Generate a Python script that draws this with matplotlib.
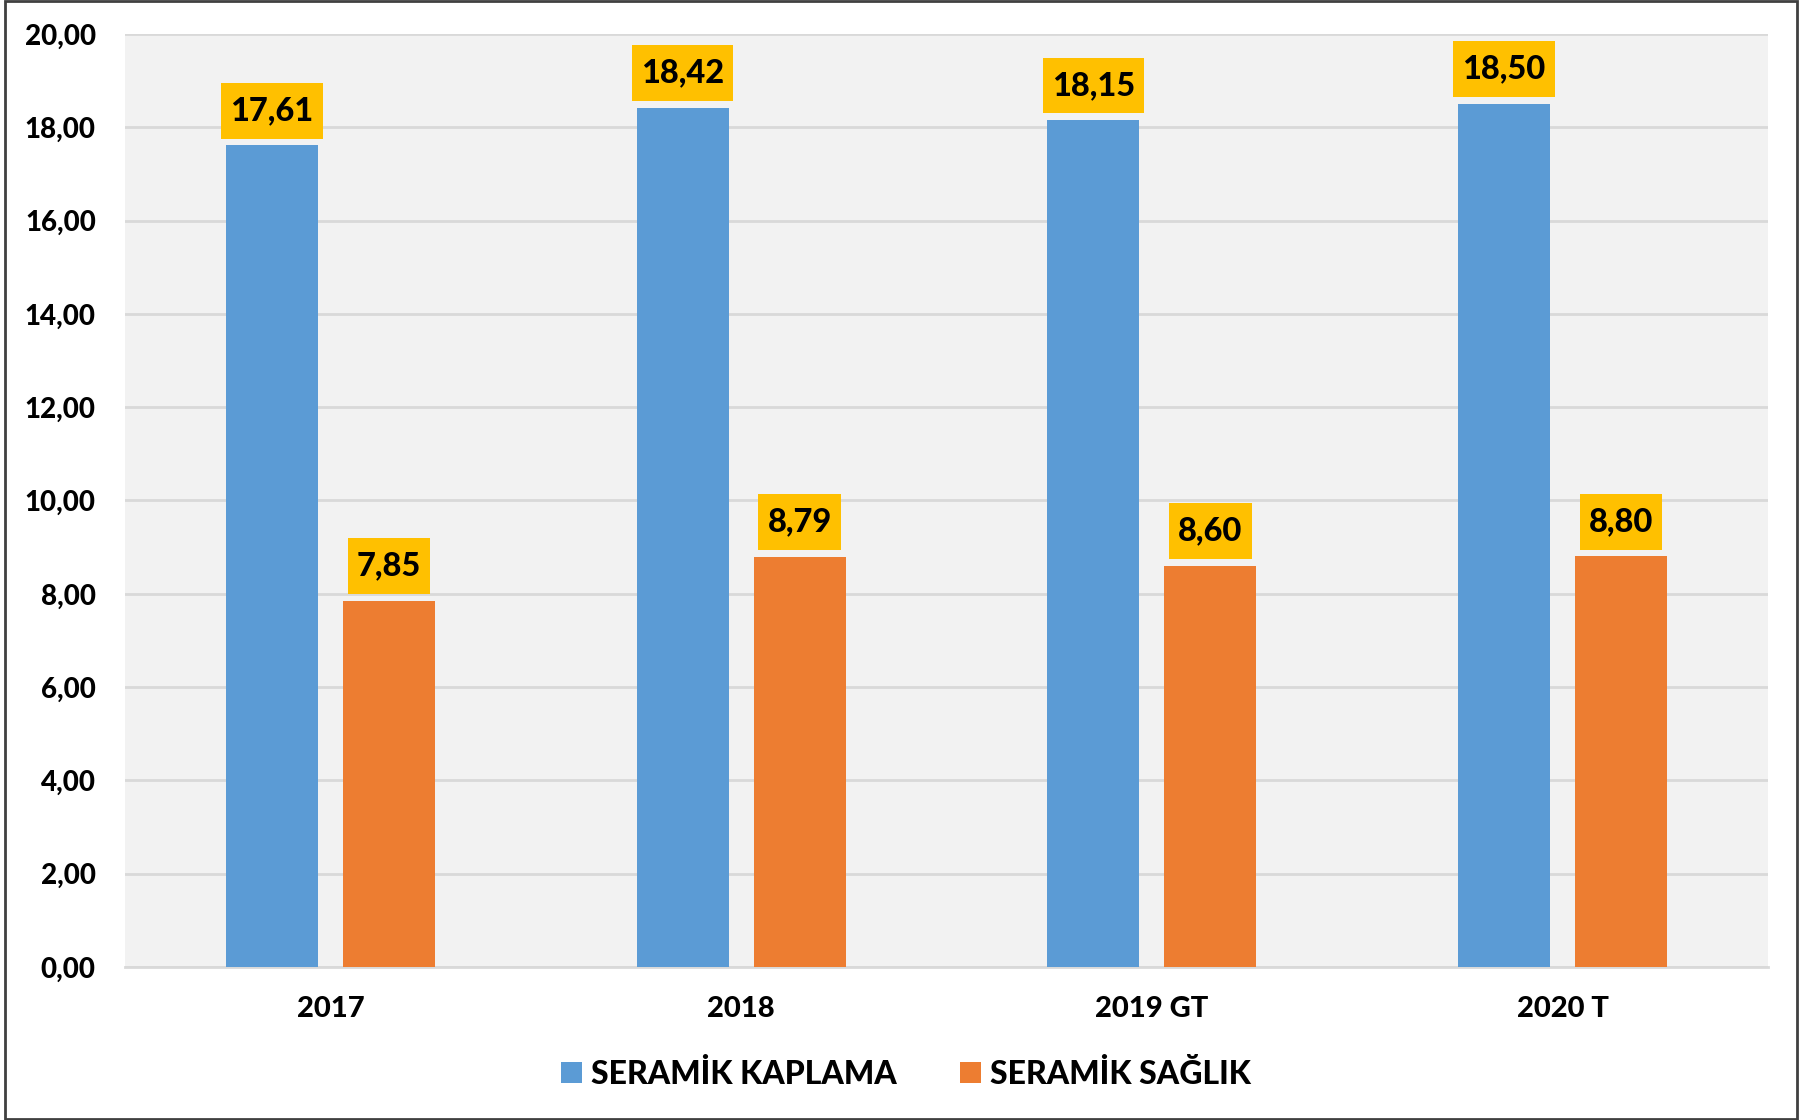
import matplotlib
matplotlib.use("Agg")
import matplotlib.pyplot as plt
from matplotlib.patches import Rectangle
from matplotlib.path import Path
import numpy as np

categories = ["2017", "2018", "2019 GT", "2020 T"]
kaplama = [17.61, 18.42, 18.15, 18.50]
saglik = [7.85, 8.79, 8.60, 8.80]
series_names = ["SERAMİK KAPLAMA", "SERAMİK SAĞLIK"]
yticks = [0, 2, 4, 6, 8, 10, 12, 14, 16, 18, 20]

plt.rcParams['font.family'] = ['Lato', 'DejaVu Sans']
WEIGHT = "black"

W, H = 1808, 1120
fig = plt.figure(figsize=(W/100, H/100), dpi=100)
left, right, top, bottom = 125, 1768, 34, 967
ax = fig.add_axes([left/W, 1-bottom/H, (right-left)/W, (bottom-top)/H])
ax.set_facecolor("#F2F2F2")

x = np.arange(len(categories))
bw = 0.224
off = 0.1425
b1 = ax.bar(x - off, kaplama, bw, color="#5B9BD5", zorder=3, label=series_names[0])
b2 = ax.bar(x + off, saglik, bw, color="#ED7D31", zorder=3, label=series_names[1])

ax.set_xlim(-0.5, len(categories)-0.5)
ax.set_ylim(0, 20)
ax.set_yticks(yticks)
ax.set_yticklabels([f"{v:.2f}".replace(".", ",") for v in yticks], fontsize=20, fontweight=WEIGHT)
ax.set_xticks(x)
ax.set_xticklabels(categories, fontsize=21, fontweight=WEIGHT)
ax.tick_params(axis="both", length=0)
ax.tick_params(axis="y", pad=21)
ax.tick_params(axis="x", pad=21)
ax.grid(axis="y", color="#D9D9D9", linewidth=2, zorder=0)
for s in ["top", "right", "left"]:
    ax.spines[s].set_visible(False)
ax.spines["bottom"].set_color("#D9D9D9")
ax.spines["bottom"].set_linewidth(2)


def label_box(x0, y0, width, height, mutation_size):
    px = 0.28 * mutation_size
    py = 0.41 * mutation_size
    xa, ya = x0 - px, y0 - py
    xb, yb = x0 + width + px, y0 + height + py
    return Path([(xa, ya), (xb, ya), (xb, yb), (xa, yb), (xa, ya)], closed=True)


for bars, vals in ((b1, kaplama), (b2, saglik)):
    for b, v in zip(bars, vals):
        ax.annotate(f"{v:.2f}".replace(".", ","),
                    xy=(b.get_x() + b.get_width()/2, v),
                    xytext=(0, 14.6), textcoords="offset points",
                    ha="center", va="bottom", fontsize=23.5, fontweight=WEIGHT,
                    bbox=dict(boxstyle=label_box, fc="#FFC000", ec="none"),
                    zorder=5)

leg = fig.legend(handles=[b1, b2], loc="center left", bbox_to_anchor=(561/W, 1-1074/H),
                 ncol=2, frameon=False, prop={"size": 23, "weight": WEIGHT},
                 handlelength=0.65, handleheight=0.65, handletextpad=0.28,
                 columnspacing=2.0, borderpad=0, borderaxespad=0)

border = Rectangle((5/W, 1/H), (1797-5)/W, (1118)/H, transform=fig.transFigure,
                   fill=False, ec="#404040", lw=2)
fig.patches.append(border)

fig.savefig("out.png", dpi=100)
